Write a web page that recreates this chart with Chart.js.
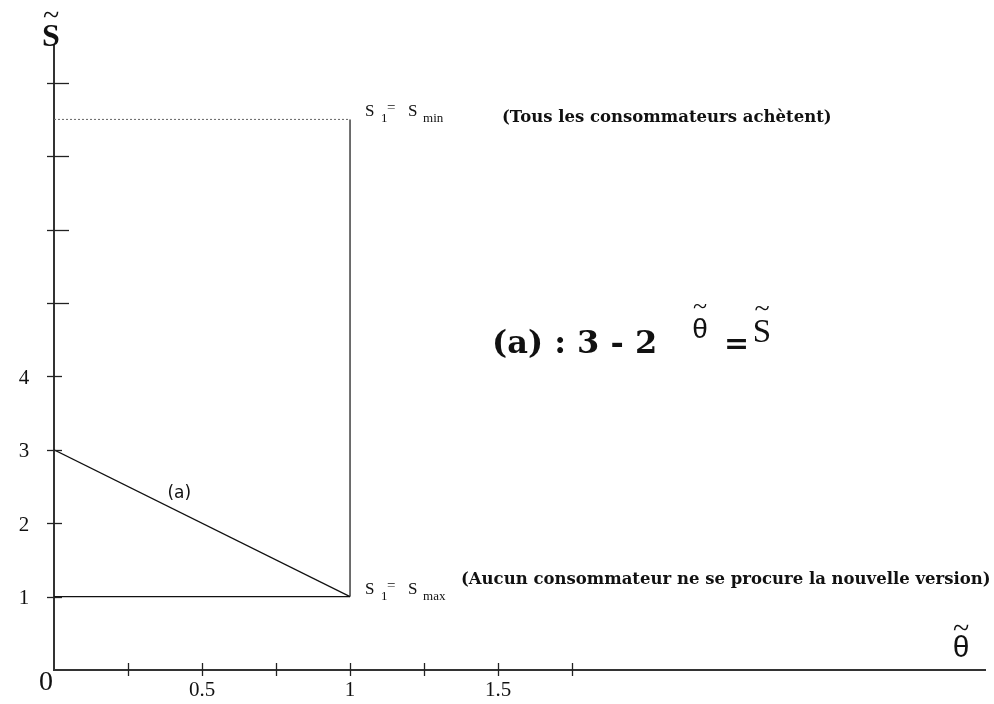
<!DOCTYPE html>
<html>
<head>
<meta charset="utf-8">
<script src="https://cdn.jsdelivr.net/npm/chart.js@4/dist/chart.umd.min.js"></script>
<style>
  html, body { margin: 0; padding: 0; background: #fff; }
  canvas { display: block; }
</style>
</head>
<body>
<canvas id="chart" width="994" height="704"></canvas>
<script>
// Segments of the diagram: theta on x, s on y
const thetaA = [0, 1];
const sA = [3, 1];
const thetaFloor = [0, 1];
const sFloor = [1, 1];
const thetaWall = [1, 1];
const sWall = [1, 7.5];
const thetaCeil = [0, 1];
const sCeil = [7.5, 7.5];

// Axis ticks and their labels ('' = bare tick)
const xTickValues = [0.25, 0.5, 0.75, 1, 1.25, 1.5, 1.75];
const xTickLabels = ['', '0.5', '', '1', '', '1.5', ''];
const yTickValues = [1, 2, 3, 4, 5, 6, 7, 8];
const yTickLabels = ['1', '2', '3', '4', '', '', '', ''];

// Where the "(a)" tag sits along its line
const tagA = { x: 0.4, y: 2.2 };

const toPoints = (xs, ys) => xs.map((x, i) => ({ x, y: ys[i] }));

function tilde(ctx, cx, cy, size) {
  ctx.save();
  ctx.font = size + 'px "Liberation Serif"';
  ctx.textAlign = 'center';
  ctx.textBaseline = 'middle';
  ctx.fillText('~', cx, cy);
  ctx.restore();
}

// "S1= S<sub>" label next to a corner point
function sLabel(ctx, px, py, sub) {
  ctx.save();
  ctx.textAlign = 'left';
  ctx.textBaseline = 'alphabetic';
  ctx.font = '17px "Liberation Serif"';
  ctx.fillText('S', px + 15, py - 3);
  ctx.fillText('S', px + 58, py - 3);
  ctx.font = '13px "Liberation Serif"';
  ctx.fillText('1', px + 31, py + 3);
  ctx.font = '15px "Liberation Serif"';
  ctx.fillText('=', px + 37, py - 7);
  ctx.font = '13px "Liberation Serif"';
  ctx.fillText(sub, px + 73, py + 3);
  ctx.restore();
}

const diagram = {
  id: 'diagram',
  beforeDraw(chart) {
    const { ctx, width, height } = chart;
    ctx.save();
    ctx.fillStyle = '#fff';
    ctx.fillRect(0, 0, width, height);
    ctx.restore();
  },
  afterDraw(chart) {
    const { ctx, scales: { x, y } } = chart;
    const x0 = x.getPixelForValue(0);
    const y0 = y.getPixelForValue(0);
    ctx.save();
    ctx.strokeStyle = '#222';
    ctx.lineWidth = 1.3;

    // tick marks crossing the axes
    xTickValues.forEach(v => {
      const px = Math.round(x.getPixelForValue(v)) + 0.5;
      ctx.beginPath();
      ctx.moveTo(px, y0 - 7);
      ctx.lineTo(px, y0 + 6);
      ctx.stroke();
    });
    yTickValues.forEach((v, i) => {
      const py = Math.round(y.getPixelForValue(v)) + 0.5;
      ctx.beginPath();
      ctx.moveTo(x0 - 7, py);
      ctx.lineTo(x0 + (yTickLabels[i] ? 8 : 15), py);
      ctx.stroke();
    });

    // tick labels
    ctx.fillStyle = '#111';
    ctx.font = '21px "Liberation Serif"';
    ctx.textAlign = 'center';
    ctx.textBaseline = 'top';
    xTickValues.forEach((v, i) => {
      if (xTickLabels[i]) ctx.fillText(xTickLabels[i], x.getPixelForValue(v), y0 + 10);
    });
    ctx.textBaseline = 'middle';
    yTickValues.forEach((v, i) => {
      if (yTickLabels[i]) ctx.fillText(yTickLabels[i], x0 - 30, y.getPixelForValue(v) + 2);
    });
    ctx.font = '28px "Liberation Serif"';
    ctx.textBaseline = 'top';
    ctx.fillText('0', x0 - 8, y0 - 1);

    // axis titles
    ctx.font = 'bold 32px "Liberation Serif"';
    ctx.textBaseline = 'alphabetic';
    ctx.fillText('S', 51, 46);
    tilde(ctx, 51, 17, 30);
    ctx.font = '30px "Liberation Sans"';
    ctx.fillText('θ', 961, 657);
    tilde(ctx, 961, 630, 30);

    // corner labels
    sLabel(ctx, x.getPixelForValue(1), y.getPixelForValue(7.5), 'min');
    sLabel(ctx, x.getPixelForValue(1), y.getPixelForValue(1), 'max');

    // notes
    ctx.textAlign = 'left';
    ctx.font = 'bold 16.5px "DejaVu Serif"';
    ctx.fillText('(Tous les consommateurs achètent)', 502, 122);
    ctx.fillText('(Aucun consommateur ne se procure la nouvelle version)', 461, 584);

    // equation of line (a)
    ctx.font = 'bold 32px "DejaVu Serif"';
    ctx.fillText('(a) : 3 - 2', 492, 353);
    ctx.font = 'bold 30px "DejaVu Serif"';
    ctx.fillText('=', 724, 353);
    ctx.font = '28px "Liberation Sans"';
    ctx.textAlign = 'center';
    ctx.fillText('θ', 700, 338);
    tilde(ctx, 700, 307, 26);
    ctx.font = '33px "Liberation Serif"';
    ctx.fillText('S', 762, 342);
    tilde(ctx, 762, 310, 28);

    // tag on line (a)
    ctx.font = '17px "DejaVu Sans"';
    ctx.textAlign = 'left';
    ctx.fillText('(a)', x.getPixelForValue(tagA.x) - 5, y.getPixelForValue(tagA.y) - 10);
    ctx.restore();
  }
};

const solid = { borderColor: '#111', borderWidth: 1.2, pointRadius: 0, showLine: true, fill: false };

new Chart(document.getElementById('chart'), {
  type: 'scatter',
  data: {
    datasets: [
      { ...solid, label: '(a)', data: toPoints(thetaA, sA) },
      { ...solid, label: 'S1 = Smax', data: toPoints(thetaFloor, sFloor) },
      { ...solid, label: 'theta = 1', data: toPoints(thetaWall, sWall) },
      { ...solid, label: 'S1 = Smin', data: toPoints(thetaCeil, sCeil),
        borderColor: '#666', borderWidth: 1, borderDash: [2, 2] }
    ]
  },
  options: {
    responsive: false,
    animation: false,
    layout: { padding: { left: 54, top: 46, right: 9, bottom: 34 } },
    plugins: { legend: { display: false }, tooltip: { enabled: false } },
    scales: {
      x: {
        type: 'linear', min: 0, max: 3.145,
        ticks: { display: false },
        grid: { display: false, drawTicks: false },
        border: { display: true, color: '#333', width: 2 }
      },
      y: {
        type: 'linear', min: 0, max: 8.5,
        ticks: { display: false },
        grid: { display: false, drawTicks: false },
        border: { display: true, color: '#333', width: 2 }
      }
    }
  },
  plugins: [diagram]
});
</script>
</body>
</html>
